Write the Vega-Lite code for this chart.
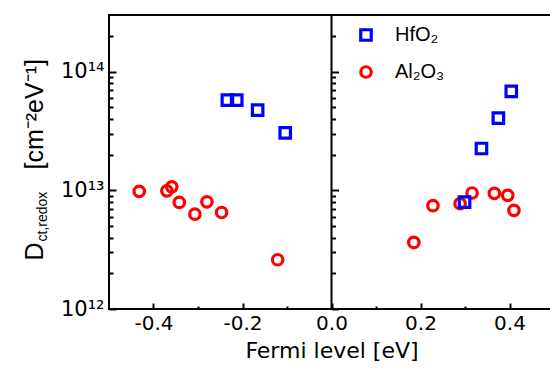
{
  "$schema": "https://vega.github.io/schema/vega-lite/v6.json",
  "width": 445,
  "height": 294,
  "autosize": {"type": "none"},
  "padding": {"left": 109, "top": 15, "right": 0, "bottom": 62},
  "background": "white",
  "config": {
    "view": {"stroke": "black", "strokeWidth": 2},
    "font": "DejaVu Sans",
    "axis": {"domain": false, "grid": false, "ticks": true, "zindex": 1, "tickColor": "black", "tickWidth": 2, "labelColor": "black", "titleColor": "black", "titleFontWeight": "normal"}
  },
  "data": {
    "values": [
      {"series": "Al₂O₃", "fermi": -0.432, "D": 9.8e12},
      {"series": "Al₂O₃", "fermi": -0.370, "D": 9.9e12},
      {"series": "Al₂O₃", "fermi": -0.359, "D": 1.07e13},
      {"series": "Al₂O₃", "fermi": -0.342, "D": 7.9e12},
      {"series": "Al₂O₃", "fermi": -0.307, "D": 6.3e12},
      {"series": "Al₂O₃", "fermi": -0.280, "D": 8.0e12},
      {"series": "Al₂O₃", "fermi": -0.247, "D": 6.5e12},
      {"series": "Al₂O₃", "fermi": -0.121, "D": 2.6e12},
      {"series": "Al₂O₃", "fermi": 0.185, "D": 3.64e12},
      {"series": "Al₂O₃", "fermi": 0.228, "D": 7.43e12},
      {"series": "Al₂O₃", "fermi": 0.289, "D": 7.72e12},
      {"series": "Al₂O₃", "fermi": 0.316, "D": 9.49e12},
      {"series": "Al₂O₃", "fermi": 0.366, "D": 9.43e12},
      {"series": "Al₂O₃", "fermi": 0.396, "D": 9.08e12},
      {"series": "Al₂O₃", "fermi": 0.410, "D": 6.78e12},
      {"series": "HfO₂", "fermi": -0.234, "D": 5.75e13},
      {"series": "HfO₂", "fermi": -0.213, "D": 5.75e13},
      {"series": "HfO₂", "fermi": -0.166, "D": 4.73e13},
      {"series": "HfO₂", "fermi": -0.104, "D": 3.05e13},
      {"series": "HfO₂", "fermi": 0.299, "D": 7.96e12},
      {"series": "HfO₂", "fermi": 0.337, "D": 2.25e13},
      {"series": "HfO₂", "fermi": 0.375, "D": 4.05e13},
      {"series": "HfO₂", "fermi": 0.404, "D": 6.81e13}
    ]
  },
  "layer": [
    {
      "data": {"values": [{}]},
      "mark": {"type": "rule", "color": "black", "strokeWidth": 2},
      "encoding": {"x": {"datum": 0, "type": "quantitative", "axis": null, "scale": {"domain": [-0.5, 0.5], "nice": false, "zero": false}}}
    },
    {
      "mark": {"type": "point", "opacity": 0},
      "encoding": {
        "x": {"field": "fermi", "type": "quantitative",
          "scale": {"domain": [-0.5, 0.5], "nice": false, "zero": false},
          "axis": {"orient": "bottom", "labels": false, "title": null, "zindex": 1, "values": [-0.3, -0.1, 0.1, 0.3], "tickSize": -3}},
        "y": {"field": "D", "type": "quantitative",
          "scale": {"type": "log", "domain": [1e12, 3e14], "nice": false},
          "axis": {"orient": "left", "offset": -222.5, "labels": false, "title": null, "zindex": 1,
            "values": [1e12, 1e13, 1e14], "tickSize": -7}}
      }
    },
    {
      "mark": {"type": "point", "opacity": 0},
      "encoding": {
        "y": {"field": "D", "type": "quantitative",
          "scale": {"type": "log", "domain": [1e12, 3e14], "nice": false},
          "axis": {"orient": "left", "offset": -222.5, "labels": false, "title": null, "zindex": 1,
            "values": [2e12,3e12,4e12,5e12,6e12,7e12,8e12,9e12,2e13,3e13,4e13,5e13,6e13,7e13,8e13,9e13,2e14], "tickSize": -4}}
      }
    },
    {
      "mark": {"type": "point", "opacity": 0},
      "encoding": {
        "y": {"field": "D", "type": "quantitative",
          "scale": {"type": "log", "domain": [1e12, 3e14], "nice": false},
          "axis": {"orient": "left", "labels": false, "title": null, "zindex": 1,
            "values": [2e12,3e12,4e12,5e12,6e12,7e12,8e12,9e12,2e13,3e13,4e13,5e13,6e13,7e13,8e13,9e13,2e14], "tickSize": -4}}
      }
    },
    {
      "mark": {"type": "point", "opacity": 0},
      "encoding": {
        "y": {"field": "D", "type": "quantitative",
          "scale": {"type": "log", "domain": [1e12, 3e14], "nice": false},
          "axis": {"orient": "left", "labels": false, "ticks": false, "title": "ct,redox",
            "titleFont": "Liberation Sans", "titleFontSize": 14, "titleAngle": 270, "titleAlign": "left", "titleBaseline": "alphabetic", "titleX": -63, "titleY": 226}}
      }
    },
    {
      "mark": {"type": "point", "opacity": 0},
      "encoding": {
        "y": {"field": "D", "type": "quantitative",
          "scale": {"type": "log", "domain": [1e12, 3e14], "nice": false},
          "axis": {"orient": "left", "labels": false, "ticks": false, "title": "[cm⁻²eV⁻¹]",
            "titleFont": "Liberation Sans", "titleFontSize": 25, "titleAngle": 270, "titleAlign": "left", "titleBaseline": "alphabetic", "titleX": -67, "titleY": 154}}
      }
    },
    {
      "mark": {"type": "point", "filled": false, "strokeWidth": 3.2, "size": 110, "opacity": 1},
      "encoding": {
        "x": {"field": "fermi", "type": "quantitative",
          "scale": {"domain": [-0.5, 0.5], "nice": false, "zero": false},
          "axis": {"orient": "bottom", "title": "Fermi level [eV]", "titleFontSize": 22, "titlePadding": 7, "zindex": 1,
            "values": [-0.4, -0.2, 0, 0.2, 0.4],
            "labelExpr": "replace(format(datum.value, '.1f'), '−', '-')",
            "labelFontSize": 20, "labelPadding": 10, "labelOverlap": false, "tickSize": -6}},
        "y": {"field": "D", "type": "quantitative",
          "scale": {"type": "log", "domain": [1e12, 3e14], "nice": false},
          "axis": {"orient": "left", "title": "D", "zindex": 1,
            "titleFont": "Liberation Sans", "titleFontSize": 25, "titleAngle": 270, "titleAlign": "left", "titleBaseline": "alphabetic", "titleX": -67, "titleY": 245,
            "values": [1e12, 1e13, 1e14],
            "labelExpr": "datum.value < 5e12 ? '10¹²' : datum.value < 5e13 ? '10¹³' : '10¹⁴'",
            "labelFontSize": 21, "labelPadding": 12, "labelOverlap": false, "tickSize": -7}},
        "color": {"field": "series", "type": "nominal",
          "scale": {"domain": ["HfO₂", "Al₂O₃"], "range": ["#0000ff", "#ff0000"]},
          "legend": {"orient": "none", "legendX": 247, "legendY": 10, "title": null, "labelFontSize": 20, "labelFont": "Liberation Sans", "labelOffset": 19, "rowPadding": 13, "symbolStrokeWidth": 3.2, "symbolSize": 110, "labelColor": "black"}},
        "shape": {"field": "series", "type": "nominal",
          "scale": {"domain": ["HfO₂", "Al₂O₃"], "range": ["square", "circle"]}}
      }
    }
  ],
  "resolve": {"axis": {"x": "independent", "y": "independent"}}
}
